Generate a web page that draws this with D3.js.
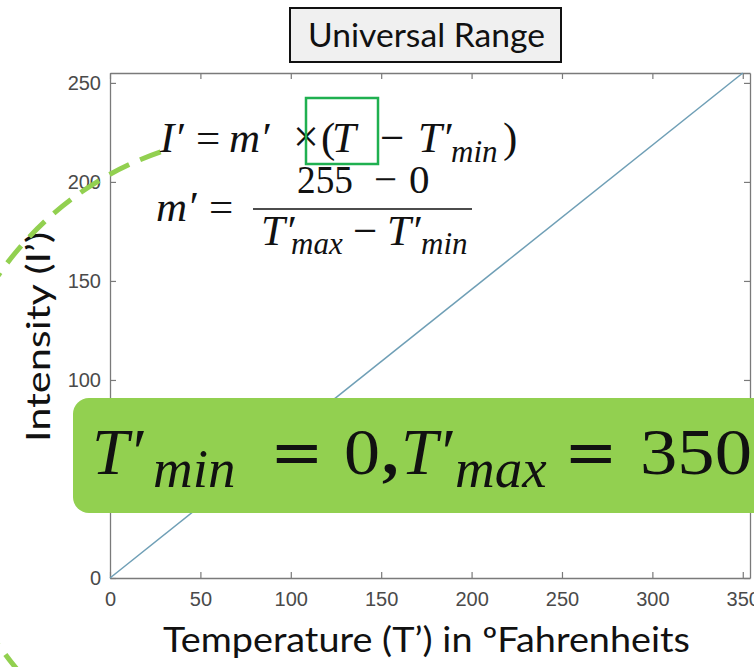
<!DOCTYPE html>
<html>
<head>
<meta charset="utf-8">
<script src="https://cdn.jsdelivr.net/npm/d3@7"></script>
<style>
  html, body { margin: 0; padding: 0; background: #fff; }
  svg { display: block; }
  .math { fill: #111; }
</style>
</head>
<body>
<svg id="chart" width="754" height="667"></svg>
<script>
// Linear mapping of temperature onto the 0–255 intensity range
const temperatures = [0, 350];
const intensities = [0, 255];
const xTickValues = [0, 50, 100, 150, 200, 250, 300, 350];
const yTickValues = [0, 50, 100, 150, 200, 250];
const xDomain = [0, 354];
const yDomain = [0, 255];

const svg = d3.select("#chart");
const plot = { left: 110, right: 750, top: 73, bottom: 578 };

const x = d3.scaleLinear().domain(xDomain).range([plot.left, plot.right]);
const y = d3.scaleLinear().domain(yDomain).range([plot.bottom, plot.top]);

const axisColor = "#7a7a7a";
const labelColor = "#4a4a4a";

function styleAxis(g) {
  g.select(".domain").attr("stroke", axisColor).attr("stroke-width", 1.3);
  g.selectAll(".tick line").attr("stroke", axisColor).attr("stroke-width", 1.2);
  g.selectAll(".tick text")
    .attr("fill", labelColor)
    .style("font-family", "'Liberation Sans', Arial, sans-serif")
    .style("font-size", "20px");
}

// plot box with inward ticks on all four sides
svg.append("g")
  .attr("transform", `translate(0,${plot.bottom})`)
  .call(d3.axisBottom(x).tickValues(xTickValues).tickSize(-6).tickPadding(14).tickSizeOuter(0))
  .call(styleAxis);
svg.append("g")
  .attr("transform", `translate(0,${plot.top})`)
  .call(d3.axisTop(x).tickValues(xTickValues).tickSize(-6).tickFormat("").tickSizeOuter(0))
  .call(styleAxis);
svg.append("g")
  .attr("transform", `translate(${plot.left},0)`)
  .call(d3.axisLeft(y).tickValues(yTickValues).tickSize(-6).tickPadding(9).tickSizeOuter(0))
  .call(styleAxis);
svg.append("g")
  .attr("transform", `translate(${plot.right},0)`)
  .call(d3.axisRight(y).tickValues(yTickValues).tickSize(-6).tickFormat("").tickSizeOuter(0))
  .call(styleAxis);

// the mapping line
const pts = temperatures.map((t, i) => [t, intensities[i]]);
svg.append("path")
  .datum(pts)
  .attr("fill", "none")
  .attr("stroke", "#6f9fb6")
  .attr("stroke-width", 1.5)
  .attr("d", d3.line().x(d => x(d[0])).y(d => y(d[1])));

// axis titles
svg.append("text")
  .attr("x", 163).attr("y", 652)
  .attr("textLength", 527).attr("lengthAdjust", "spacingAndGlyphs")
  .style("font-family", "Lato, 'Open Sans', sans-serif")
  .style("font-size", "34px")
  .attr("fill", "#111")
  .text("Temperature (T’) in ºFahrenheits");
svg.append("text")
  .attr("transform", "translate(50,442) rotate(-90)")
  .attr("textLength", 210).attr("lengthAdjust", "spacingAndGlyphs")
  .style("font-family", "Lato, 'Open Sans', sans-serif")
  .style("font-size", "32px")
  .attr("fill", "#111")
  .text("Intensity (I’)");

// title box
svg.append("rect")
  .attr("x", 290).attr("y", 8).attr("width", 271).attr("height", 54)
  .attr("fill", "#f0f0f0").attr("stroke", "#111").attr("stroke-width", 2);
svg.append("text")
  .attr("x", 308).attr("y", 47)
  .attr("textLength", 237).attr("lengthAdjust", "spacingAndGlyphs")
  .style("font-family", "Lato, 'Open Sans', sans-serif")
  .style("font-size", "32px")
  .attr("fill", "#111")
  .text("Universal Range");

// dashed arc
const arcCx = 267, arcCy = 460, arcR = 326;
const arcPath = d3.path();
const a0 = Math.atan2(150 - arcCy, 160 - arcCx);
const a1 = Math.PI * 0.5 + 0.55;
arcPath.arc(arcCx, arcCy, arcR, a0, a1, true);
svg.append("path")
  .attr("d", arcPath.toString())
  .attr("fill", "none")
  .attr("stroke", "#92d050")
  .attr("stroke-width", 5)
  .attr("stroke-dasharray", "22,12");

const SERIF = "'Liberation Serif', 'DejaVu Serif', serif";
const WIDE = "'DejaVu Serif', serif";

// math helper: {t, x, y, s, i (italic), f (font), w (textLength), b (bold)}
function mathText(parts) {
  parts.forEach(p => {
    const el = svg.append("text")
      .attr("class", "math")
      .attr("x", p.x).attr("y", p.y)
      .style("font-family", p.f || SERIF)
      .style("font-size", p.s + "px")
      .style("font-style", p.i ? "italic" : "normal")
      .style("font-weight", p.b ? "bold" : "normal")
      .text(p.t);
    if (p.w) el.attr("textLength", p.w).attr("lengthAdjust", "spacingAndGlyphs");
  });
}

// I' = m' × (T − T'min)
mathText([
  { t: "I′", x: 160, y: 152, s: 43, i: true },
  { t: "=", x: 196, y: 152, s: 43 },
  { t: "m′", x: 229, y: 152, s: 43, i: true },
  { t: "×", x: 293, y: 152, s: 46 },
  { t: "(", x: 321, y: 152, s: 43 },
  { t: "T", x: 332, y: 152, s: 43, i: true },
  { t: "−", x: 380, y: 152, s: 43 },
  { t: "T′", x: 418, y: 152, s: 43, i: true },
  { t: "min", x: 451, y: 162, s: 31, i: true },
  { t: ")", x: 503, y: 152, s: 43 }
]);

// m' = (255 − 0) / (T'max − T'min)
mathText([
  { t: "m′", x: 156, y: 221, s: 43, i: true },
  { t: "=", x: 209, y: 221, s: 43 },
  { t: "255", x: 297, y: 193, s: 41, w: 56 },
  { t: "−", x: 374, y: 193, s: 41 },
  { t: "0", x: 409, y: 193, s: 41 },
  { t: "T′", x: 261, y: 245, s: 43, i: true },
  { t: "max", x: 291, y: 254, s: 31, i: true },
  { t: "−", x: 353, y: 245, s: 43 },
  { t: "T′", x: 387, y: 245, s: 43, i: true },
  { t: "min", x: 421, y: 254, s: 31, i: true }
]);
svg.append("line")
  .attr("x1", 253).attr("x2", 472).attr("y1", 209).attr("y2", 209)
  .attr("stroke", "#111").attr("stroke-width", 1.6);

// highlight square around the T term
svg.append("rect")
  .attr("x", 306).attr("y", 98).attr("width", 72).attr("height", 66)
  .attr("fill", "none").attr("stroke", "#1fb050").attr("stroke-width", 2.5);

// callout with the range limits
svg.append("rect")
  .attr("x", 73).attr("y", 398).attr("width", 720).attr("height", 115)
  .attr("rx", 16).attr("ry", 16)
  .attr("fill", "#92d050");
mathText([
  { t: "T′", x: 92, y: 474, s: 66, i: true },
  { t: "min", x: 153, y: 487, s: 55, i: true },
  { t: "=", x: 270, y: 474, s: 64, f: WIDE },
  { t: "0", x: 344, y: 474, s: 66, w: 36 },
  { t: ",", x: 382, y: 474, s: 66, b: true },
  { t: "T′", x: 401, y: 474, s: 66, i: true },
  { t: "max", x: 455, y: 487, s: 55, i: true },
  { t: "=", x: 564, y: 474, s: 64, f: WIDE },
  { t: "350", x: 640, y: 474, s: 66, w: 112 }
]);
</script>
</body>
</html>
